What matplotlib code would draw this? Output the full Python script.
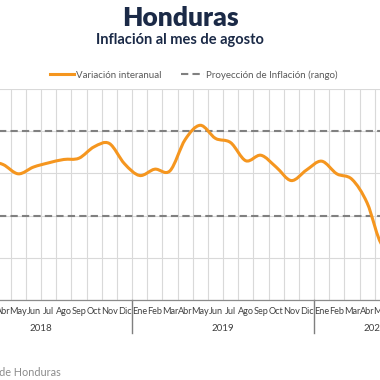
import matplotlib.pyplot as plt
from matplotlib.path import Path
from matplotlib.patches import PathPatch
from matplotlib.lines import Line2D

plt.rcParams['font.family'] = ['Lato', 'DejaVu Sans']

MESES = ["Ene", "Feb", "Mar", "Abr", "May", "Jun", "Jul", "Ago", "Sep", "Oct", "Nov", "Dic"]
YEARS = ["2018", "2019", "2020"]
MONTHS_PER_YEAR = [12, 12, 8]

# variacion interanual (%), ene-2018 .. ago-2020
INFLACION = [4.50, 4.40, 4.30, 4.21, 3.99, 4.15, 4.25, 4.33, 4.36, 4.63, 4.71, 4.23,
             3.95, 4.10, 4.06, 4.80, 5.14, 4.83, 4.73, 4.30, 4.43, 4.15, 3.83, 4.08,
             4.29, 3.99, 3.86, 3.30, 2.30, 2.55, 3.10, 3.40]
RANGO = [3.0, 5.0]  # proyeccion de inflacion (rango)

ORANGE = "#F5961F"
NAVY = "#1B2A47"


def smooth_path(x, y):
    # excel-like smoothed line: catmull-rom through the points as bezier
    verts = [(x[0], y[0])]
    codes = [Path.MOVETO]
    n = len(x)
    for i in range(n - 1):
        xp, yp = (x[i - 1], y[i - 1]) if i > 0 else (x[i], y[i])
        xn, yn = (x[i + 2], y[i + 2]) if i + 2 < n else (x[i + 1], y[i + 1])
        c1 = (x[i] + (x[i + 1] - xp) / 6, y[i] + (y[i + 1] - yp) / 6)
        c2 = (x[i + 1] - (xn - x[i]) / 6, y[i + 1] - (yn - y[i]) / 6)
        verts += [c1, c2, (x[i + 1], y[i + 1])]
        codes += [Path.CURVE4] * 3
    return Path(verts, codes)


labels = [MESES[i] for n in MONTHS_PER_YEAR for i in range(n)]
x = list(range(len(INFLACION)))

fig = plt.figure(figsize=(3.8, 3.8), dpi=100)
W = 380.0
ax = fig.add_axes([-50 / W, 80 / W, 485.4 / W, 211 / W])
ax.set_xlim(-0.5, len(x) - 0.5)
ax.set_ylim(1, 6)

ax.set_xticks([i - 0.5 for i in range(1, len(x))], minor=True)
ax.set_xticks([])
ax.set_yticks([1, 2, 3, 4, 5, 6])
ax.grid(True, which='minor', axis='x', color='#D9D9D9', lw=0.8)
ax.grid(True, which='major', axis='y', color='#D9D9D9', lw=0.8)
ax.tick_params(which='both', length=0, labelleft=False, labelbottom=False)
for s in ['top', 'left', 'right']:
    ax.spines[s].set_visible(False)
ax.spines['bottom'].set_color('#8C8C8C')
ax.spines['bottom'].set_linewidth(0.9)
ax.set_axisbelow(True)

for r in RANGO:
    ax.axhline(r, color='#808080', lw=1.5, ls=(0, (3.5, 2)), zorder=2)

ax.add_patch(PathPatch(smooth_path(x, INFLACION), fill=False, edgecolor=ORANGE,
                       lw=2.2, capstyle='round', joinstyle='round', zorder=3))

tr = ax.get_xaxis_transform()
for xi, lab in zip(x, labels):
    ax.text(xi, -0.055, lab, transform=tr, ha='center', va='center',
            fontsize=6.6, color='#404040')

start = 0
bounds = [-0.5]
for yr, n in zip(YEARS, MONTHS_PER_YEAR):
    ax.text(start + (n - 1) / 2, -0.133, yr, transform=tr, ha='center', va='center',
            fontsize=7, color='#404040')
    start += n
    bounds.append(start - 0.5)
for b in bounds:
    ax.plot([b, b], [0, -0.156], transform=tr, color='#7F7F7F', lw=1.0, clip_on=False)

handles = [Line2D([], [], color=ORANGE, lw=2.2),
           Line2D([], [], color='#808080', lw=1.5, ls=(0, (3.5, 2)))]
fig.legend(handles, ["Variación interanual", "Proyección de Inflación (rango)"],
           loc='center', bbox_to_anchor=(194 / W, 1 - 75 / W), ncol=2, frameon=False,
           fontsize=7, handlelength=2.4, handletextpad=0.2, columnspacing=2.0,
           labelcolor='#595959')

fig.text(180 / W, 1 - 26 / W, "Honduras", ha='center', va='baseline',
         fontsize=19, fontweight='heavy', color=NAVY)
fig.text(180 / W, 1 - 44 / W, "Inflación al mes de agosto", ha='center', va='baseline',
         fontsize=10.5, fontweight='bold', color=NAVY)
fig.text(61 / W, 1 - 372 / W, "Fuente: Banco Central de Honduras", ha='right', va='center',
         fontsize=7.8, color='#8C8C8C')

fig.savefig("out.png", dpi=100)
